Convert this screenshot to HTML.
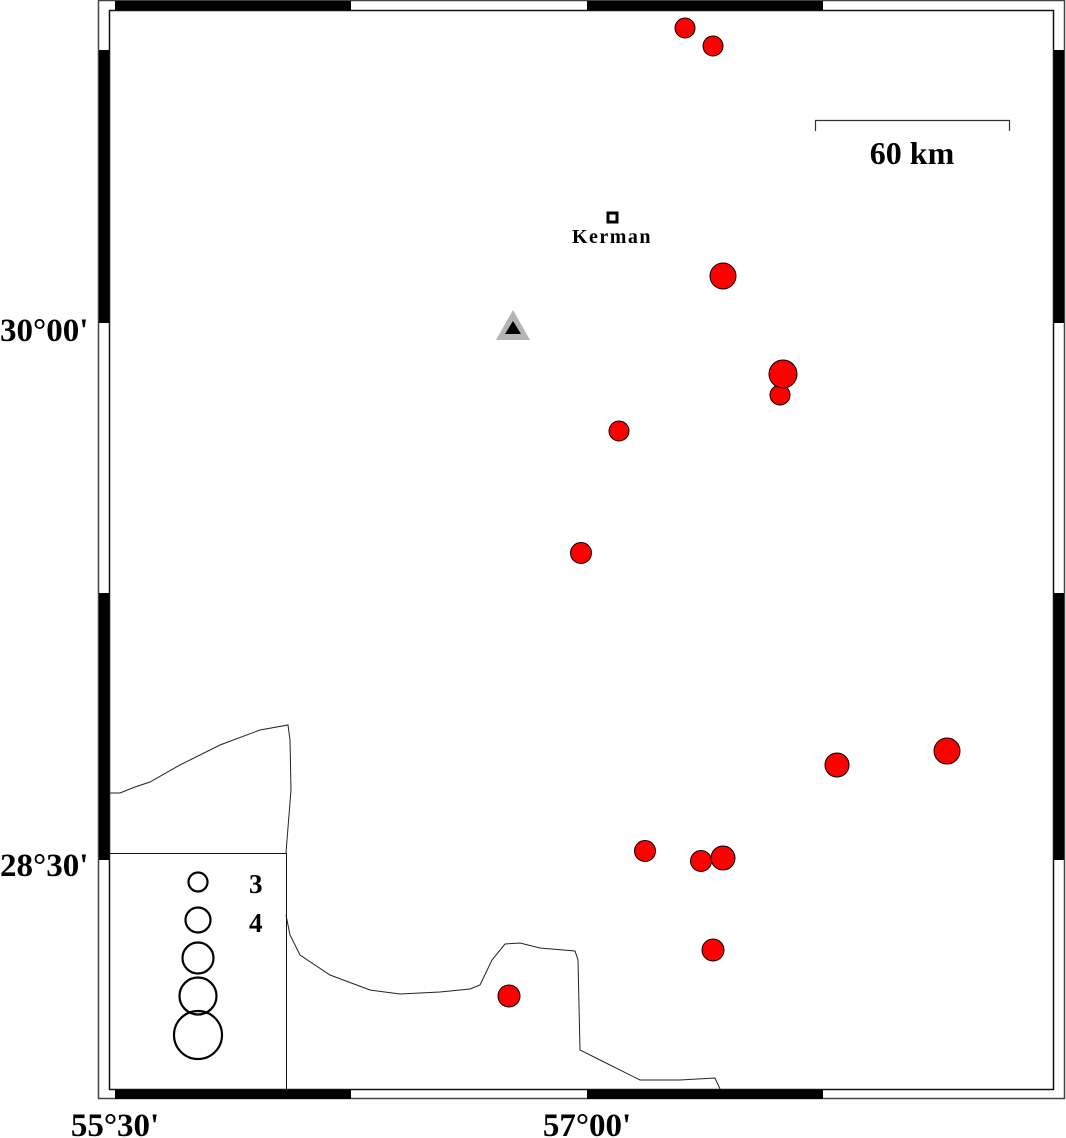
<!DOCTYPE html>
<html><head><style>body{margin:0;background:#fff}svg{display:block}text{font-family:"Liberation Serif",serif;font-weight:bold}</style></head>
<body>
<svg width="1066" height="1138" viewBox="0 0 1066 1138">
<rect x="98.5" y="0.5" width="966" height="1098" fill="none" stroke="#444" stroke-width="1.5"/>
<rect x="109.5" y="10.5" width="944" height="1079" fill="none" stroke="#111" stroke-width="1.5"/>
<g fill="#000">
<rect x="115" y="1" width="236" height="9"/><rect x="587" y="1" width="236" height="9"/>
<rect x="115" y="1090" width="236" height="9"/><rect x="587" y="1090" width="236" height="9"/>
<rect x="99" y="50" width="10" height="273"/><rect x="99" y="593" width="10" height="267"/>
<rect x="1054" y="50" width="10" height="273"/><rect x="1054" y="593" width="10" height="267"/>
</g>
<g fill="none" stroke="#222" stroke-width="1">
<path d="M109,793 L120,793 L135,787 L150,782 L180,765 L220,745 L260,730 L288,725 L290,740 L291,790 L287,840 L286,853"/>
<path d="M286,915 L290,935 L300,955 L330,975 L370,990 L400,994 L440,992 L470,989 L480,985 L492,960 L505,944 L520,943 L540,948 L575,951 L578,960 L580,1050 L600,1060 L640,1080 L680,1080 L715,1078 L720,1089"/>
</g>
<rect x="109.5" y="853.5" width="177" height="236" fill="none" stroke="#111" stroke-width="1"/>
<g fill="none" stroke="#000" stroke-width="2.2">
<circle cx="198" cy="882" r="9.5"/><circle cx="198" cy="920" r="12.5"/><circle cx="198" cy="958" r="15.5"/><circle cx="198" cy="996" r="18.5"/><circle cx="198" cy="1035" r="24"/>
</g>
<text x="249" y="893" font-size="27">3</text>
<text x="249" y="932" font-size="27">4</text>
<g fill="#f00" stroke="#000" stroke-width="1">
<circle cx="685" cy="28" r="10"/><circle cx="713" cy="46" r="10"/><circle cx="723" cy="276" r="13"/>
<circle cx="780" cy="395" r="10"/><circle cx="783" cy="374" r="14"/><circle cx="619" cy="431" r="10"/>
<circle cx="581" cy="553" r="10.5"/><circle cx="837" cy="765" r="12"/><circle cx="947" cy="751" r="13"/>
<circle cx="645" cy="851" r="10.5"/><circle cx="701" cy="861" r="10.5"/><circle cx="723" cy="858" r="12"/>
<circle cx="713" cy="950" r="11"/><circle cx="509" cy="996" r="11"/>
</g>
<polygon points="496,340 530,340 513,310" fill="#b4b4b4"/>
<polygon points="505,334 521,334 513,321" fill="#000"/>
<rect x="608" y="213" width="9" height="9" fill="#fff" stroke="#000" stroke-width="3"/>
<text x="612" y="243" font-size="20" text-anchor="middle" letter-spacing="1.5">Kerman</text>
<path d="M815.5,131 V120.5 H1009.5 V131" fill="none" stroke="#333" stroke-width="1.2"/>
<text x="912" y="164" font-size="32" text-anchor="middle">60 km</text>
<text x="0" y="341" font-size="33">30°00'</text>
<text x="0" y="876" font-size="33">28°30'</text>
<text x="115" y="1136" font-size="33" text-anchor="middle">55°30'</text>
<text x="587" y="1136" font-size="33" text-anchor="middle">57°00'</text>
</svg>
</body></html>
